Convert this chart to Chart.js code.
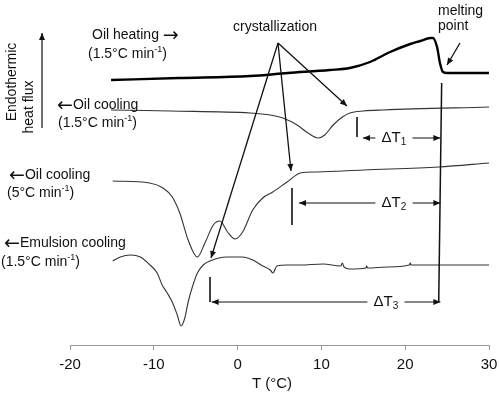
<!DOCTYPE html>
<html><head><meta charset="utf-8">
<script src="https://cdn.jsdelivr.net/npm/chart.js@4"></script>
<style>html,body{margin:0;padding:0;background:#fff}#wrap{width:499px;height:393px;position:relative}</style>
</head><body><div id="wrap"><canvas id="c"></canvas></div>
<script>
// ---- data (temperature in °C, heat flux in arbitrary units, vertically offset curves) ----
const xTicks = [-20, -10, 0, 10, 20, 30];

const heatingT = [-15.1, -7, 1.5, 6, 11.0, 13.4, 15.8, 18.2, 20.6, 21.8, 23.0, 23.3, 23.8, 24.15, 24.5, 25.0, 27, 30];
const heatingY = [265, 267, 269, 272, 275, 277, 283, 293, 301, 304, 307, 307, 298, 282, 273, 272, 272, 272];

const oilSlowT = [-15.1, -8, 1.5, 3.9, 5.4, 7.1, 8.4, 9.6, 10.4, 11.4, 12.5, 13.4, 15.0, 17.4, 30];
const oilSlowY = [235, 234, 232, 230, 227, 220, 212, 207, 210, 220, 228, 232, 234, 235, 238];

const oilFastT = [-14.9, -10.5, -8.9, -7.8, -6.9, -5.9, -4.8, -3.9, -2.9, -2.1, -1.2, -0.3, 0.6, 1.8, 3.0, 4.2, 5.9, 7.5, 9.5, 15, 24, 30];
const oilFastY = [164, 162, 157, 148, 132, 105, 88, 102, 120, 124, 113, 106, 113, 135, 147, 153, 163, 172, 173, 175, 178, 182];

const emulT = [-14.9, -14.0, -12.8, -11.6, -10.45, -9.6, -9.0, -8.4, -7.8, -7.2, -6.75, -6.3, -5.9, -5.4, -4.8, -4.1, -3.3, -1.3, 0.6, 1.8, 3.0, 3.9, 4.2, 4.7, 5.9, 7.45, 10.2, 12.3, 12.5, 12.7, 13.4, 15.3, 15.4, 15.5, 17.8, 20.5, 20.6, 20.7, 30];
const emulY = [84, 88, 90, 88, 80, 72, 60, 52, 43, 30, 19, 27, 43, 58, 72, 80, 84, 88, 88, 85, 79, 75, 72, 79, 80, 80, 81, 79, 82, 78, 76, 77, 79, 77, 78, 80, 82, 80, 80];

// annotation anchors in data coordinates [T, flux]
const crystApex = [4.82, 302];
const crystTargets = [[-3.17, 87], [6.37, 174], [13.05, 239]];
const meltArrow = [[26.54, 302], [24.99, 280]];
const meltLine = [[24.35, 262], [24.0, 43]];
const deltaBars = [[14.25, 228, 208], [6.49, 157, 120], [-3.29, 68, 43]];
const deltaArrows = [[207, 14.96, 24.2], [142, 7.33, 24.2], [43, -3.1, 24.2]];
const deltaLabelT = [18.66, 18.66, 17.7];
const deltaSubs = ['1', '2', '3'];
const yArrow = [[-23.34, 217], [-23.34, 312]];

const pts = (xs, ys) => xs.map((x, i) => ({x, y: ys[i]}));
const FONT = '"Liberation Sans", Arial, sans-serif';
const AFONT = '"DejaVu Sans", sans-serif';

function arrowHead(ctx, x1, y1, x2, y2, len, w) {
  const a = Math.atan2(y2 - y1, x2 - x1);
  ctx.beginPath();
  ctx.moveTo(x2, y2);
  ctx.lineTo(x2 - len * Math.cos(a) + w * Math.sin(a), y2 - len * Math.sin(a) - w * Math.cos(a));
  ctx.lineTo(x2 - len * Math.cos(a) - w * Math.sin(a), y2 - len * Math.sin(a) + w * Math.cos(a));
  ctx.closePath();
  ctx.fill();
}
function arrow(ctx, x1, y1, x2, y2) {
  ctx.beginPath(); ctx.moveTo(x1, y1); ctx.lineTo(x2, y2); ctx.stroke();
  arrowHead(ctx, x1, y1, x2, y2, 7, 3);
}
function partFont(p, size) {
  if (p[1] === 'sup' || p[1] === 'sub') return Math.round(size * 0.65) + 'px ' + FONT;
  if (p[1] === 'arrow') return Math.round(size * 1.35) + 'px ' + AFONT;
  return size + 'px ' + FONT;
}
// draw text with parts: [text, mode] mode: '', 'sup', 'sub', 'arrow'
function richText(ctx, parts, x, y, size, align) {
  const widths = parts.map(p => { ctx.font = partFont(p, size); return ctx.measureText(p[0]).width; });
  const total = widths.reduce((a, b) => a + b, 0);
  let cx = align === 'center' ? x - total / 2 : x;
  ctx.textAlign = 'left';
  ctx.textBaseline = 'middle';
  parts.forEach((p, i) => {
    ctx.font = partFont(p, size);
    const dy = p[1] === 'sup' ? -size * 0.32 : p[1] === 'sub' ? size * 0.3 : p[1] === 'arrow' ? 1 : 0;
    ctx.fillText(p[0], cx, y + dy);
    cx += widths[i];
  });
  return total;
}

const annotations = {
  id: 'annotations',
  afterDatasetsDraw(chart) {
    const ctx = chart.ctx, xs = chart.scales.x, ys = chart.scales.y;
    const X = v => xs.getPixelForValue(v), Y = v => ys.getPixelForValue(v);
    ctx.save();
    ctx.strokeStyle = '#111'; ctx.fillStyle = '#111'; ctx.lineWidth = 1.3;
    crystTargets.forEach(t => arrow(ctx, X(crystApex[0]), Y(crystApex[1]), X(t[0]), Y(t[1])));
    arrow(ctx, X(meltArrow[0][0]), Y(meltArrow[0][1]), X(meltArrow[1][0]), Y(meltArrow[1][1]));
    ctx.lineWidth = 1.5;
    ctx.beginPath(); ctx.moveTo(X(meltLine[0][0]), Y(meltLine[0][1])); ctx.lineTo(X(meltLine[1][0]), Y(meltLine[1][1])); ctx.stroke();
    deltaBars.forEach(b => {
      ctx.lineWidth = 1.6;
      ctx.beginPath(); ctx.moveTo(X(b[0]), Y(b[1])); ctx.lineTo(X(b[0]), Y(b[2])); ctx.stroke();
    });
    ctx.lineWidth = 1.2;
    deltaArrows.forEach((a, i) => {
      const y = Y(a[0]), x1 = X(a[1]), x2 = X(a[2]);
      ctx.beginPath(); ctx.moveTo(x1, y); ctx.lineTo(x2, y); ctx.stroke();
      arrowHead(ctx, x2, y, x1, y, 7, 3);
      arrowHead(ctx, x1, y, x2, y, 7, 3);
      const lx = X(deltaLabelT[i]);
      ctx.font = '15px ' + FONT;
      const w = ctx.measureText('\u0394T').width + 8;
      ctx.fillStyle = '#fff';
      ctx.fillRect(lx - w / 2 - 5, y - 8, w + 10, 16);
      ctx.fillStyle = '#111';
      richText(ctx, [['\u0394T', ''], [deltaSubs[i], 'sub']], lx, y, 15, 'center');
    });
    ctx.lineWidth = 1.2;
    arrow(ctx, X(yArrow[0][0]), Y(yArrow[0][1]), X(yArrow[1][0]), Y(yArrow[1][1]));
    ctx.restore();

    ctx.save();
    ctx.fillStyle = '#111';
    const sz = 14;
    richText(ctx, [['Oil heating ', ''], ['\u2192', 'arrow']], 92, 35, sz);
    richText(ctx, [['(1.5\u00B0C min', ''], ['-1', 'sup'], [')', '']], 88, 54, sz);
    richText(ctx, [['\u2190', 'arrow'], ['Oil cooling', '']], 57, 105, sz);
    richText(ctx, [['(1.5\u00B0C min', ''], ['-1', 'sup'], [')', '']], 58, 123, sz);
    richText(ctx, [['\u2190', 'arrow'], ['Oil cooling', '']], 9, 175, sz);
    richText(ctx, [['(5\u00B0C min', ''], ['-1', 'sup'], [')', '']], 7, 193, sz);
    richText(ctx, [['\u2190', 'arrow'], ['Emulsion cooling', '']], 4, 243, sz);
    richText(ctx, [['(1.5\u00B0C min', ''], ['-1', 'sup'], [')', '']], 1, 262, sz);
    richText(ctx, [['crystallization', '']], 233, 27, sz);
    richText(ctx, [['melting', '']], 438, 11, sz);
    richText(ctx, [['point', '']], 438, 26, sz);
    richText(ctx, [['T (\u00B0C)', '']], 272, 384, 15, 'center');
    ctx.save(); ctx.translate(12, 82); ctx.rotate(-Math.PI / 2);
    richText(ctx, [['Endothermic', '']], 0, 0, sz, 'center'); ctx.restore();
    ctx.save(); ctx.translate(29, 107); ctx.rotate(-Math.PI / 2);
    richText(ctx, [['heat flux', '']], 0, 0, sz, 'center'); ctx.restore();
    ctx.restore();
  }
};

const lineDs = (data, w, color) => ({
  data, borderColor: color, borderWidth: w, pointRadius: 0, fill: false,
  cubicInterpolationMode: 'monotone'
});

new Chart(document.getElementById('c'), {
  type: 'line',
  data: {
    datasets: [
      lineDs(pts(heatingT, heatingY), 2.4, '#000'),
      lineDs(pts(oilSlowT, oilSlowY), 1.1, '#333'),
      lineDs(pts(oilFastT, oilFastY), 1.1, '#333'),
      lineDs(pts(emulT, emulY), 1.1, '#333')
    ]
  },
  options: {
    responsive: true, maintainAspectRatio: false, animation: false,
    layout: {padding: {left: 70, right: 10, top: 0, bottom: 0}},
    plugins: {legend: {display: false}, tooltip: {enabled: false}},
    scales: {
      x: {
        type: 'linear', min: xTicks[0], max: xTicks[xTicks.length - 1],
        afterBuildTicks: s => { s.ticks = xTicks.map(v => ({value: v})); },
        afterFit: s => { s.height = 48; s.paddingLeft = 0; s.paddingRight = 0; },
        grid: {drawOnChartArea: false, drawTicks: true, tickLength: 5, color: '#999'},
        border: {color: '#999', width: 1},
        ticks: {color: '#111', font: {size: 15, family: FONT}, padding: 6}
      },
      y: {type: 'linear', display: false, min: 0, max: 345}
    }
  },
  plugins: [annotations]
});
</script>
</body></html>
